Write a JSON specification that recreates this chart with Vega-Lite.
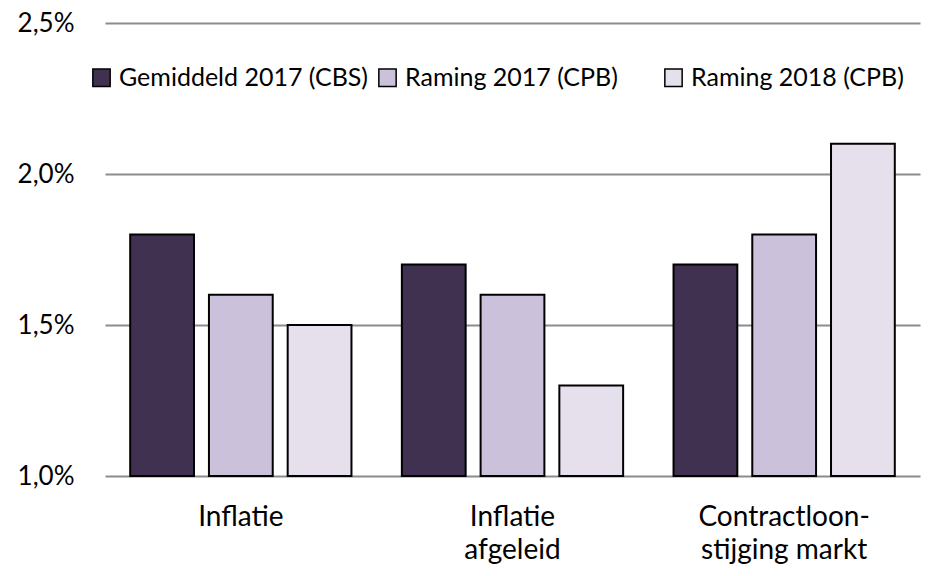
{
  "$schema": "https://vega.github.io/schema/vega-lite/v6.json",
  "width": 815,
  "height": 453,
  "autosize": {"type": "none"},
  "padding": {"left": 105, "top": 23, "right": 13, "bottom": 100},
  "background": "white",
  "data": {
    "values": [
      {"categorie": "Inflatie", "reeks": "Gemiddeld 2017 (CBS)", "waarde": 1.8},
      {"categorie": "Inflatie", "reeks": "Raming 2017 (CPB)", "waarde": 1.6},
      {"categorie": "Inflatie", "reeks": "Raming 2018 (CPB)", "waarde": 1.5},
      {"categorie": "Inflatie\nafgeleid", "reeks": "Gemiddeld 2017 (CBS)", "waarde": 1.7},
      {"categorie": "Inflatie\nafgeleid", "reeks": "Raming 2017 (CPB)", "waarde": 1.6},
      {"categorie": "Inflatie\nafgeleid", "reeks": "Raming 2018 (CPB)", "waarde": 1.3},
      {"categorie": "Contractloon-\nstijging markt", "reeks": "Gemiddeld 2017 (CBS)", "waarde": 1.7},
      {"categorie": "Contractloon-\nstijging markt", "reeks": "Raming 2017 (CPB)", "waarde": 1.8},
      {"categorie": "Contractloon-\nstijging markt", "reeks": "Raming 2018 (CPB)", "waarde": 2.1}
    ]
  },
  "mark": {"type": "bar", "stroke": "#000000", "strokeWidth": 2},
  "encoding": {
    "x": {
      "field": "categorie",
      "type": "nominal",
      "sort": null,
      "scale": {"paddingInner": 0, "paddingOuter": 0},
      "axis": {
        "title": null,
        "labelAngle": 0,
        "domain": false,
        "ticks": false,
        "labelExpr": "split(datum.label, '\\n')",
        "labelFont": "Lato",
        "labelFontSize": 28,
        "labelColor": "#000000",
        "labelPadding": 27,
        "labelLineHeight": 33,
        "labelBaseline": "top"
      }
    },
    "xOffset": {
      "field": "reeks",
      "type": "nominal",
      "sort": null,
      "scale": {"paddingInner": 0.19, "paddingOuter": 0.32}
    },
    "y": {
      "field": "waarde",
      "type": "quantitative",
      "scale": {"domain": [1.0, 2.5], "zero": false, "nice": false},
      "axis": {
        "title": null,
        "values": [1.0, 1.5, 2.0, 2.5],
        "labelExpr": "replace(format(datum.value, '.1f'), '.', ',') + '%'",
        "domain": false,
        "ticks": false,
        "grid": true,
        "gridColor": "#8c8c8c",
        "gridWidth": 2,
        "labelFont": "Lato",
        "labelFontSize": 26,
        "labelColor": "#000000",
        "labelPadding": 31
      }
    },
    "y2": {"datum": 1.0},
    "color": {
      "field": "reeks",
      "type": "nominal",
      "sort": null,
      "scale": {
        "domain": ["Gemiddeld 2017 (CBS)", "Raming 2017 (CPB)", "Raming 2018 (CPB)"],
        "range": ["#403151", "#ccc1da", "#e5e0ec"]
      },
      "legend": {
        "title": null,
        "orient": "none",
        "legendX": -16,
        "legendY": 42,
        "direction": "horizontal",
        "columns": 3,
        "gridAlign": "all",
        "columnPadding": 6,
        "padding": 0,
        "symbolType": "square",
        "symbolSize": 300,
        "symbolStrokeColor": "#000000",
        "symbolStrokeWidth": 1.5,
        "symbolOpacity": 1,
        "labelFont": "Lato",
        "labelFontSize": 25,
        "labelColor": "#000000",
        "labelOffset": 5,
        "labelLimit": 400
      }
    }
  },
  "config": {
    "view": {"stroke": null}
  }
}
